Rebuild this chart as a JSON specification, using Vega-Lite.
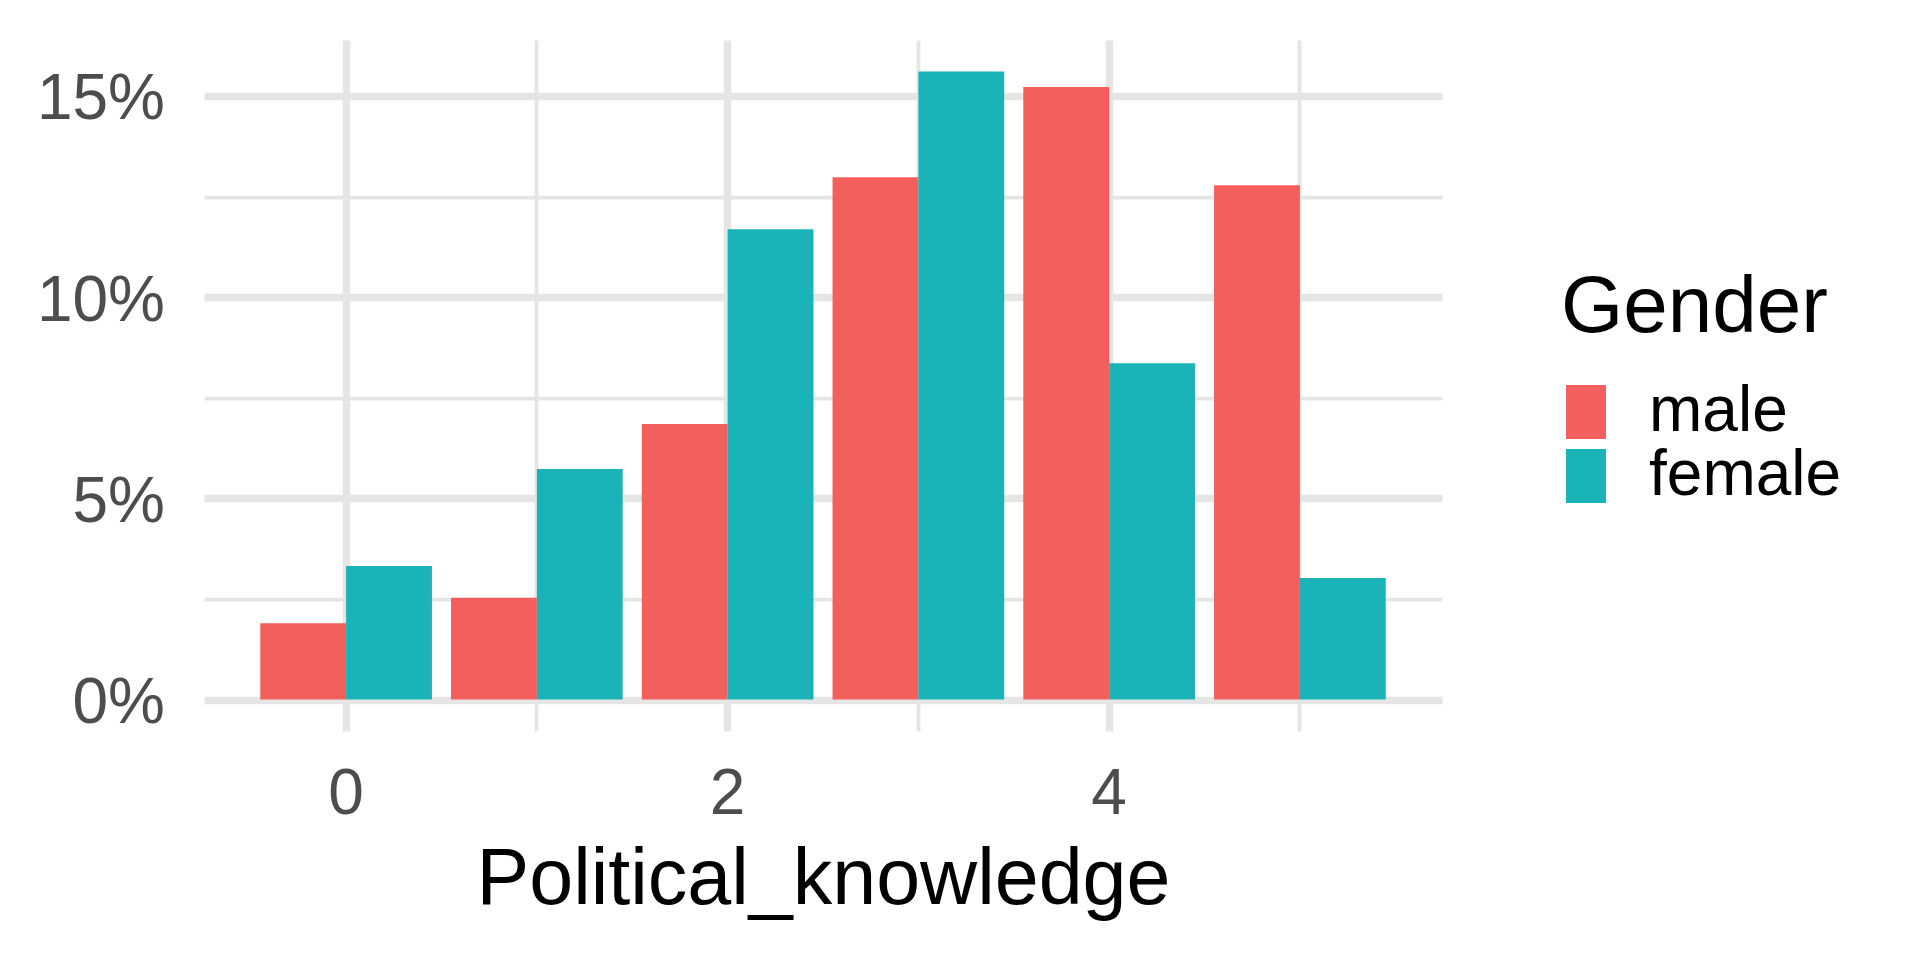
{
  "$schema": "https://vega.github.io/schema/vega-lite/v6.json",
  "width": 1238,
  "height": 691,
  "autosize": {"type": "none"},
  "padding": {"left": 204, "top": 40, "right": 478, "bottom": 229},
  "background": "white",
  "config": {"view": {"stroke": null}, "font": "Liberation Sans"},
  "data": {
    "values": [
      {"Political_knowledge": 0, "Gender": "male", "pct": 1.90},
      {"Political_knowledge": 0, "Gender": "female", "pct": 3.32},
      {"Political_knowledge": 1, "Gender": "male", "pct": 2.53},
      {"Political_knowledge": 1, "Gender": "female", "pct": 5.73},
      {"Political_knowledge": 2, "Gender": "male", "pct": 6.85},
      {"Political_knowledge": 2, "Gender": "female", "pct": 11.69},
      {"Political_knowledge": 3, "Gender": "male", "pct": 12.98},
      {"Political_knowledge": 3, "Gender": "female", "pct": 15.61},
      {"Political_knowledge": 4, "Gender": "male", "pct": 15.22},
      {"Political_knowledge": 4, "Gender": "female", "pct": 8.36},
      {"Political_knowledge": 5, "Gender": "male", "pct": 12.78},
      {"Political_knowledge": 5, "Gender": "female", "pct": 3.02}
    ]
  },
  "mark": {"type": "bar"},
  "encoding": {
    "x": {
      "field": "Political_knowledge",
      "type": "ordinal",
      "scale": {"paddingInner": 0.1, "paddingOuter": 0.295},
      "axis": {
        "title": "Political_knowledge",
        "titleFontSize": 79,
        "titleColor": "black",
        "titleFontWeight": "normal",
        "titleX": 619,
        "titleY": 172,
        "titleBaseline": "alphabetic",
        "titleAlign": "center",
        "labelExpr": "datum.value % 2 === 0 ? datum.label : ''",
        "labelAngle": 0,
        "labelFontSize": 64,
        "labelColor": "#4D4D4D",
        "labelPadding": 82,
        "labelBaseline": "alphabetic",
        "labelOverlap": false,
        "ticks": false,
        "tickSize": 0,
        "domain": false,
        "grid": true,
        "bandPosition": 0.5,
        "gridColor": "#E5E5E5",
        "gridWidth": {"condition": {"test": "datum.value % 2 === 0", "value": 7.5}, "value": 3.75}
      }
    },
    "xOffset": {
      "field": "Gender",
      "type": "nominal",
      "sort": ["male", "female"],
      "scale": {"paddingInner": 0, "paddingOuter": 0}
    },
    "y": {
      "field": "pct",
      "type": "quantitative",
      "scale": {"domain": [-0.78, 16.39], "nice": false, "zero": false},
      "axis": {
        "title": null,
        "values": [0, 2.5, 5, 7.5, 10, 12.5, 15],
        "labelExpr": "datum.value % 5 === 0 ? datum.value + '%' : ''",
        "labelFontSize": 64,
        "labelColor": "#4D4D4D",
        "labelPadding": 39.5,
        "labelOffset": 4,
        "labelOverlap": false,
        "labelFlush": false,
        "ticks": false,
        "tickSize": 0,
        "domain": false,
        "grid": true,
        "gridColor": "#E5E5E5",
        "gridWidth": {"condition": {"test": "datum.value % 5 === 0", "value": 7.5}, "value": 3.75}
      }
    },
    "y2": {"datum": 0},
    "color": {
      "field": "Gender",
      "type": "nominal",
      "sort": ["male", "female"],
      "scale": {"domain": ["male", "female"], "range": ["#F35F5C", "#19B3B8"]},
      "legend": {
        "title": "Gender",
        "orient": "none",
        "legendX": 1357,
        "legendY": 229,
        "padding": 0,
        "titleFontSize": 80,
        "titleColor": "black",
        "titleFontWeight": "normal",
        "titlePadding": 31,
        "titleLimit": 600,
        "labelFontSize": 64,
        "labelColor": "black",
        "labelOffset": 31,
        "labelLimit": 600,
        "symbolType": "M-0.74,-1H0.74V1H-0.74Z",
        "symbolSize": 2916,
        "symbolStrokeWidth": 0,
        "symbolOpacity": 1,
        "symbolOffset": -7,
        "rowPadding": 0
      }
    }
  }
}
